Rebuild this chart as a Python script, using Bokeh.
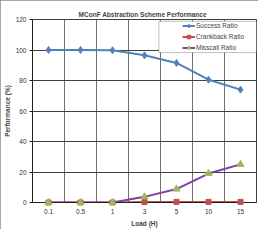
from bokeh.plotting import figure
from bokeh.models import Range1d, FixedTicker, Legend, LegendItem, ColumnDataSource, BoxAnnotation
from bokeh.embed import file_html
from bokeh.resources import INLINE

loads = ["0.1", "0.5", "1", "3", "5", "10", "15"]
success = [100, 100, 99.8, 96.5, 91.5, 80.5, 74]
crankback = [0, 0, 0, 0.3, 0.4, 0.4, 0.4]
miscall = [0, 0, 0, 3.7, 8.8, 19, 25]
y_ticks = [0, 20, 40, 60, 80, 100, 120]

FONT = "Liberation Sans"
xs = list(range(len(loads)))
src = ColumnDataSource(dict(x=xs, s=success, c=crankback, m=miscall))

p = figure(width=258, height=229, output_backend="svg", toolbar_location=None,
           x_range=Range1d(-0.5, len(loads) - 0.5), y_range=Range1d(0, 120),
           min_border_left=4, min_border_right=2, min_border_top=19, min_border_bottom=0)
p.styles = {"outline": "1px solid #8a8a8a", "outline-offset": "-1px"}

p.title.text = "MConF  Abstraction Scheme  Performance"
p.title.align = "center"
p.title.text_font = FONT
p.title.text_font_size = "6.5px"
p.title.text_font_style = "bold"
p.title.standoff = 4

p.outline_line_color = "#404040"
p.outline_line_width = 1

# axes
p.xaxis.ticker = FixedTicker(ticks=xs)
p.xaxis.major_label_overrides = {i: l for i, l in enumerate(loads)}
p.xaxis.axis_label = "Load (H)"
p.yaxis.ticker = FixedTicker(ticks=y_ticks)
p.yaxis.axis_label = "Performance (%)"
for ax in (p.xaxis[0], p.yaxis[0]):
    ax.axis_label_text_font = FONT
    ax.axis_label_text_font_size = "6.5px"
    ax.axis_label_text_font_style = "bold"
    ax.major_label_text_font = FONT
    ax.major_label_text_font_size = "6.5px"
    ax.major_label_text_color = "#333333"
    ax.axis_line_color = "#202020"
    ax.minor_tick_line_color = None
    ax.axis_label_standoff = 2
p.xaxis.major_tick_line_color = None
p.xaxis.major_tick_out = 0
p.xaxis.major_tick_in = 0
p.xaxis.major_label_standoff = 6
p.xaxis.axis_label_standoff = 3
p.yaxis.major_tick_in = 0
p.yaxis.major_tick_out = 3
p.yaxis.major_tick_line_color = "#202020"
p.yaxis.major_label_standoff = 3

# grids
p.xgrid.ticker = FixedTicker(ticks=[i + 0.5 for i in xs[:-1]])
p.xgrid.grid_line_color = "#707070"
p.ygrid.ticker = FixedTicker(ticks=y_ticks[1:-1])
p.ygrid.grid_line_color = "#404040"

# series
l1 = p.line("x", "s", source=src, line_color="#4F81BD", line_width=2)
m1 = p.scatter("x", "s", source=src, marker="diamond", size=7, fill_color="#4F81BD",
               line_color="#4F81BD", level="overlay")
l2 = p.line("x", "c", source=src, line_color="#C0504D", line_width=2)
m2 = p.scatter("x", "c", source=src, marker="square", size=5, fill_color="#C0504D",
               line_color="#C0504D", level="overlay")
l3 = p.line("x", "m", source=src, line_color="#7D3FA8", line_width=2)
m3 = p.scatter("x", "m", source=src, marker="triangle", size=7, fill_color="#9BBB59",
               line_color="#9BBB59", level="overlay")

# legend frame (wider than the legend contents, as in the original)
frame_box = BoxAnnotation(left=3.45, right=6.5, top=118.8, bottom=98.3,
                          fill_color="white", fill_alpha=1,
                          line_color="#303030", line_width=1, level="overlay")
p.add_layout(frame_box)

legend = Legend(items=[
    LegendItem(label="Success Ratio", renderers=[l1, m1]),
    LegendItem(label="Crankback Ratio", renderers=[l2, m2]),
    LegendItem(label="Misscall Ratio", renderers=[l3, m3]),
], location="top_right")
legend.label_text_font = FONT
legend.label_text_font_size = "6.5px"
legend.label_height = 9
legend.glyph_height = 9
legend.glyph_width = 13
legend.label_standoff = 1
legend.spacing = 2
legend.padding = 2
legend.margin = 2
legend.label_width = 58
legend.border_line_color = None
legend.background_fill_alpha = 0
p.add_layout(legend, "center")

open("out.html", "w").write(file_html(p, INLINE))
